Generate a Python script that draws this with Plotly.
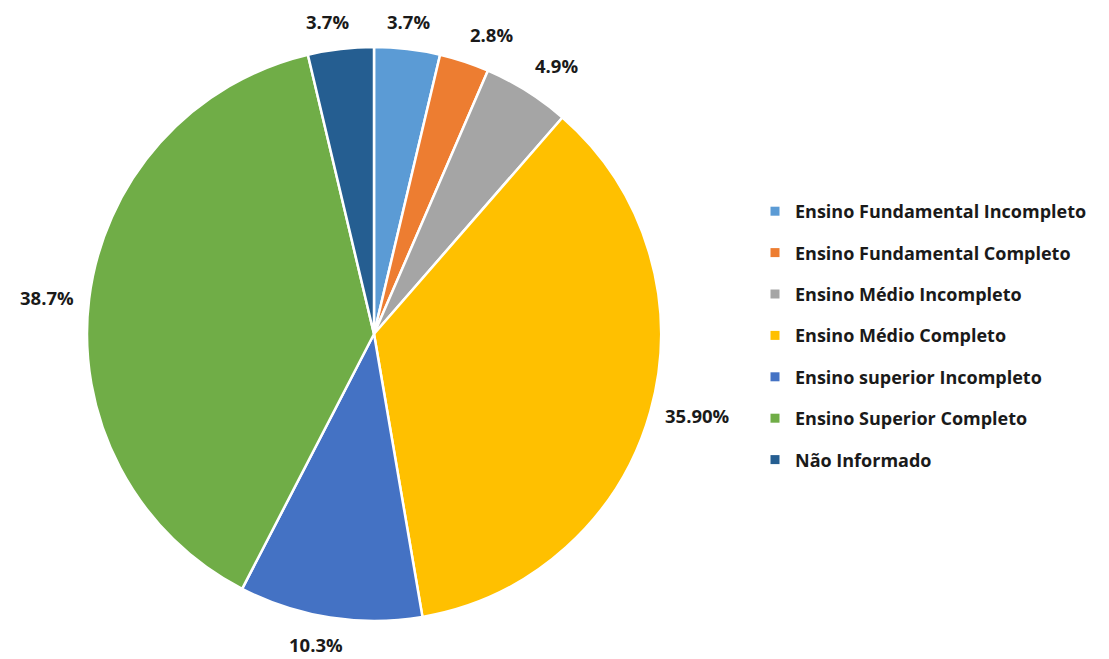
import math
import plotly.graph_objects as go

# Escolaridade dos respondentes
categorias = [
    "Ensino Fundamental Incompleto",
    "Ensino Fundamental Completo",
    "Ensino Médio Incompleto",
    "Ensino Médio Completo",
    "Ensino superior Incompleto",
    "Ensino Superior Completo",
    "Não Informado",
]
valores = [3.7, 2.8, 4.9, 35.90, 10.3, 38.7, 3.7]
rotulos = ["3.7%", "2.8%", "4.9%", "35.90%", "10.3%", "38.7%", "3.7%"]
cores = ["#5B9BD5", "#ED7D31", "#A5A5A5", "#FFC000", "#4472C4", "#70AD47", "#255E91"]

W, H = 1109, 659
CX, CY, R = 374, 334, 287   # pie centre and radius in pixels
GAP = 14                    # distance between pie edge and label
FONT = "Open Sans"
TXT = "#1a1a1a"

fig = go.Figure()
fig.add_trace(go.Pie(
    labels=categorias, values=valores, sort=False, direction="clockwise",
    rotation=0, marker=dict(colors=cores, line=dict(color="white", width=2.5)),
    textinfo="none", hoverinfo="label+value", showlegend=False,
    domain=dict(x=[(CX - R) / W, (CX + R) / W], y=[1 - (CY + R) / H, 1 - (CY - R) / H]),
))

# data labels placed outside each slice, along its mid angle
total = sum(valores)
acc = 0.0
for v, t in zip(valores, rotulos):
    mid = (acc + v / 2) / total * 2 * math.pi
    acc += v
    s, c = math.sin(mid), math.cos(mid)
    px = CX + (R + GAP) * s
    py = CY - (R + GAP) * c
    xa = "left" if s > 0.3 else ("right" if s < -0.3 else "center")
    ya = "bottom" if c > 0.3 else ("top" if c < -0.3 else "middle")
    fig.add_annotation(x=px / W, y=1 - py / H, xref="paper", yref="paper",
                       text=f"<b>{t}</b>", showarrow=False, xanchor=xa, yanchor=ya,
                       xshift=-12 if xa == "center" and s < 0 else 0,
                       borderpad=0, font=dict(family=FONT, size=18.5, color=TXT))

# legend entries (square swatches), one group each for even spacing
for i, (cat, cor) in enumerate(zip(categorias, cores)):
    fig.add_trace(go.Scatter(
        x=[None], y=[None], mode="markers", name=f"<b>{cat}</b>",
        marker=dict(symbol="square", size=9, color=cor),
        legendgroup=f"g{i}", showlegend=True,
    ))

fig.update_layout(
    width=W, height=H, margin=dict(l=0, r=0, t=0, b=0),
    paper_bgcolor="white", plot_bgcolor="white",
    xaxis=dict(visible=False), yaxis=dict(visible=False),
    legend=dict(x=755 / W, y=1 - 193 / H, xanchor="left", yanchor="top",
                font=dict(family=FONT, size=18, color=TXT),
                traceorder="grouped", tracegroupgap=15, itemwidth=30,
                bgcolor="rgba(0,0,0,0)"),
)

fig.write_html("out.html")
